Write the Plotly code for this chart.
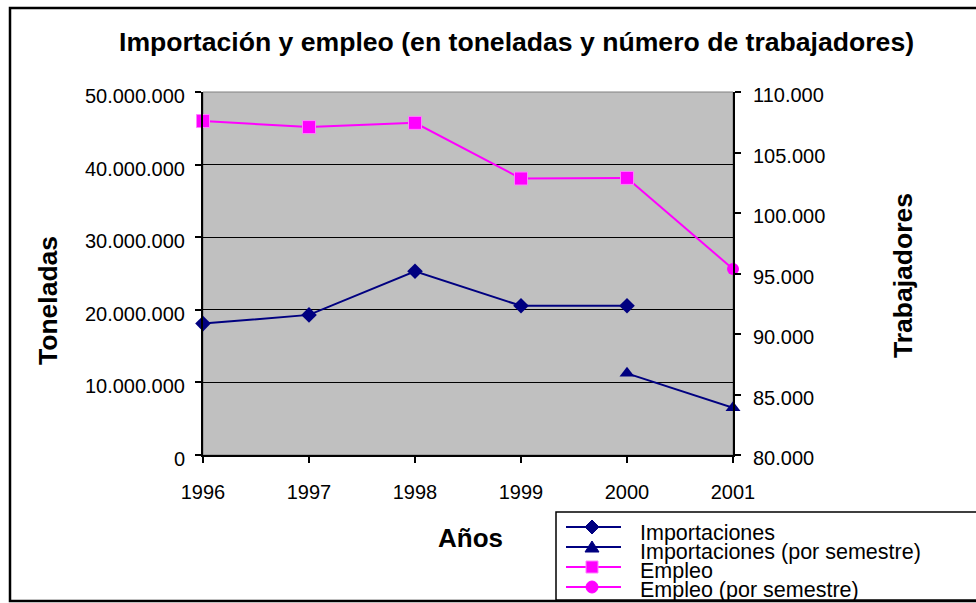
import plotly.graph_objects as go

# ---- data ----
years = [1996, 1997, 1998, 1999, 2000, 2001]
year_labels = ["1996", "1997", "1998", "1999", "2000", "2001"]

imp_years = [1996, 1997, 1998, 1999, 2000]
importaciones = [18100000, 19300000, 25300000, 20550000, 20550000]

imp_sem_years = [2000, 2001]
importaciones_sem = [11250000, 6500000]

emp_years = [1996, 1997, 1998, 1999, 2000]
empleo = [107600, 107100, 107450, 102850, 102900]

emp_sem_years = [2000, 2001]
empleo_sem = [102900, 95370]

left_ticks = [0, 10000000, 20000000, 30000000, 40000000, 50000000]
right_ticks = [80000, 85000, 90000, 95000, 100000, 105000, 110000]

legend_names = ["Importaciones", "Importaciones (por semestre)", "Empleo", "Empleo (por semestre)"]

# ---- layout geometry (page pixels; body margin removed below) ----
PAGE_W, PAGE_H = 976, 603
W, H = PAGE_W, PAGE_H
PL, PR, PT, PB = 203, 733, 92, 455
FONT = "Liberation Sans, Arial, sans-serif"
NAVY = "#000080"
MAG = "#FF00FF"


def fx(px):
    return (px - PL) / (PR - PL)


def fy(py):
    return (PB - py) / (PB - PT)


fig = go.Figure()

fig.add_trace(go.Scatter(
    x=imp_years, y=importaciones, mode="lines+markers", name=legend_names[0],
    line=dict(color=NAVY, width=2),
    marker=dict(symbol="diamond", size=12, color=NAVY),
    cliponaxis=False, showlegend=False))
fig.add_trace(go.Scatter(
    x=imp_sem_years, y=importaciones_sem, mode="lines+markers", name=legend_names[1],
    line=dict(color=NAVY, width=2),
    marker=dict(symbol="triangle-up", size=13, color=NAVY),
    cliponaxis=False, showlegend=False))
fig.add_trace(go.Scatter(
    x=emp_sem_years, y=empleo_sem, mode="lines+markers", name=legend_names[3],
    line=dict(color=MAG, width=2),
    marker=dict(symbol="circle", size=12, color=MAG),
    yaxis="y2", cliponaxis=False, showlegend=False))
fig.add_trace(go.Scatter(
    x=emp_years, y=empleo, mode="lines+markers", name=legend_names[2],
    line=dict(color=MAG, width=2),
    marker=dict(symbol="square", size=13, color=MAG, line=dict(color="#FF80FF", width=1)),
    yaxis="y2", cliponaxis=False, showlegend=False))

shapes = []
# outer chart border
shapes.append(dict(type="rect", xref="paper", yref="paper",
                   x0=fx(10), x1=fx(990), y0=fy(8), y1=fy(601),
                   line=dict(color="black", width=2.5), fillcolor="rgba(0,0,0,0)", layer="above"))
# plot area border (gray)
shapes.append(dict(type="rect", xref="paper", yref="paper",
                   x0=0, x1=1, y0=0, y1=1,
                   line=dict(color="#808080", width=1), layer="between"))
# legend box
shapes.append(dict(type="rect", xref="paper", yref="paper",
                   x0=fx(556), x1=fx(990), y0=fy(512), y1=fy(600),
                   line=dict(color="black", width=1.5), fillcolor="white", layer="above"))

leg_ys = [527, 547, 567, 587]
leg_text_ys = [533, 552, 571, 590]
leg_colors = [NAVY, NAVY, MAG, MAG]
for ly, c in zip(leg_ys, leg_colors):
    shapes.append(dict(type="line", xref="paper", yref="paper",
                       x0=fx(566), x1=fx(621), y0=fy(ly), y1=fy(ly),
                       line=dict(color=c, width=2), layer="above"))
mx = fx(592)
# diamond
shapes.append(dict(type="path", xref="paper", yref="paper", xsizemode="pixel", ysizemode="pixel",
                   xanchor=mx, yanchor=fy(leg_ys[0]), path="M0,7 L7,0 L0,-7 L-7,0 Z",
                   fillcolor=NAVY, line=dict(color=NAVY, width=1), layer="above"))
# triangle
shapes.append(dict(type="path", xref="paper", yref="paper", xsizemode="pixel", ysizemode="pixel",
                   xanchor=mx, yanchor=fy(leg_ys[1]), path="M0,6 L7,-5 L-7,-5 Z",
                   fillcolor=NAVY, line=dict(color=NAVY, width=1), layer="above"))
# square
shapes.append(dict(type="path", xref="paper", yref="paper", xsizemode="pixel", ysizemode="pixel",
                   xanchor=mx, yanchor=fy(leg_ys[2]), path="M-6,6 L6,6 L6,-6 L-6,-6 Z",
                   fillcolor=MAG, line=dict(color="#FF80FF", width=1), layer="above"))
# circle
shapes.append(dict(type="circle", xref="paper", yref="paper", xsizemode="pixel", ysizemode="pixel",
                   xanchor=mx, yanchor=fy(leg_ys[3]), x0=-6, x1=6, y0=-6, y1=6,
                   fillcolor=MAG, line=dict(color=MAG, width=1), layer="above"))

annotations = [
    dict(text="<b>Importación y empleo (en toneladas y número de trabajadores)</b>",
         x=fx(516), y=fy(42), xref="paper", yref="paper", showarrow=False,
         xanchor="center", yanchor="middle", font=dict(size=26.6, color="black", family=FONT)),
    dict(text="<b>Toneladas</b>", textangle=-90,
         x=fx(48), y=fy(301), xref="paper", yref="paper", showarrow=False,
         xanchor="center", yanchor="middle", font=dict(size=26.5, color="black", family=FONT)),
    dict(text="<b>Trabajadores</b>", textangle=-90,
         x=fx(903), y=fy(276), xref="paper", yref="paper", showarrow=False,
         xanchor="center", yanchor="middle", font=dict(size=26.5, color="black", family=FONT)),
    dict(text="<b>Años</b>",
         x=fx(470), y=fy(538), xref="paper", yref="paper", showarrow=False,
         xanchor="center", yanchor="middle", font=dict(size=26, color="black", family=FONT)),
]
for name, ty in zip(legend_names, leg_text_ys):
    annotations.append(dict(text=name, x=fx(638), y=fy(ty), xref="paper", yref="paper",
                            showarrow=False, xanchor="left", yanchor="middle",
                            font=dict(size=21.5, color="black", family=FONT)))

fig.update_layout(
    width=W, height=H,
    margin=dict(l=PL, r=PAGE_W - PR, t=PT, b=PAGE_H - PB, pad=0),
    paper_bgcolor="white", plot_bgcolor="#C0C0C0",
    separators=",.",
    showlegend=False,
    font=dict(family=FONT, size=20, color="black"),
    xaxis=dict(range=[years[0], years[-1]], tickvals=years, ticktext=year_labels,
               showgrid=False, zeroline=False, showline=True, linecolor="black", linewidth=2,
               ticks="outside", ticklen=6, tickcolor="black", tickwidth=1.5,
               ticklabelstandoff=12,
               tickfont=dict(size=20, family=FONT, color="black")),
    yaxis=dict(range=[0, 50000000], tickvals=left_ticks, tickformat=",d",
               showgrid=True, gridcolor="black", gridwidth=1.2, zeroline=False,
               showline=True, linecolor="black", linewidth=2,
               ticks="outside", ticklen=6, tickcolor="black", tickwidth=1.5,
               ticklabelstandoff=6, ticklabelshift=4,
               tickfont=dict(size=20, family=FONT, color="black")),
    yaxis2=dict(range=[80000, 110000], tickvals=right_ticks, tickformat=",d",
                overlaying="y", side="right", showgrid=False, zeroline=False,
                showline=True, linecolor="black", linewidth=2,
                ticks="outside", ticklen=6, tickcolor="black", tickwidth=1.5,
                ticklabelstandoff=8, ticklabelshift=3,
                tickfont=dict(size=20, family=FONT, color="black")),
    shapes=shapes,
    annotations=annotations,
)

fig.write_html("out.html",
               config={"displayModeBar": False},
               post_script="document.body.style.margin='0';document.body.style.overflow='hidden';")
